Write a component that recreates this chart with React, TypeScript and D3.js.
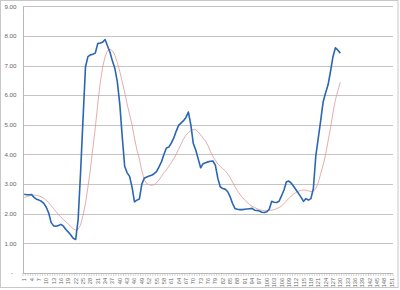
import React from "react";
import * as d3 from "d3";

const categories: number[] = d3.range(1, 152);
const labelEvery = 3;

const yTicks: number[] = [0, 1, 2, 3, 4, 5, 6, 7, 8, 9];
const yTickLabels: string[] = ["-", "1.00", "2.00", "3.00", "4.00", "5.00", "6.00", "7.00", "8.00", "9.00"];

const seriesActual: number[] = [
  2.66, 2.64, 2.64, 2.65, 2.55, 2.49, 2.46, 2.42, 2.35, 2.22,
  2.02, 1.70, 1.59, 1.58, 1.60, 1.64, 1.58, 1.47, 1.38, 1.28,
  1.17, 1.13, 1.80, 3.40, 5.20, 6.95, 7.30, 7.36, 7.38, 7.42,
  7.74, 7.76, 7.79, 7.88, 7.66, 7.45, 7.15, 6.90, 6.45, 5.70,
  4.60, 3.60, 3.38, 3.26, 2.90, 2.40, 2.46, 2.50, 3.00, 3.20,
  3.24, 3.27, 3.30, 3.35, 3.42, 3.58, 3.75, 4.00, 4.22, 4.25,
  4.38, 4.55, 4.78, 4.98, 5.06, 5.14, 5.25, 5.43, 5.00, 4.37,
  4.15, 3.85, 3.55, 3.69, 3.72, 3.75, 3.77, 3.78, 3.64, 3.20,
  2.91, 2.85, 2.83, 2.75, 2.58, 2.35, 2.18, 2.15, 2.14, 2.14,
  2.15, 2.16, 2.17, 2.18, 2.12, 2.11, 2.09, 2.05, 2.04, 2.07,
  2.15, 2.42, 2.39, 2.38, 2.42, 2.60, 2.80, 3.08, 3.10, 3.03,
  2.92, 2.80, 2.68, 2.55, 2.42, 2.51, 2.46, 2.51, 2.85, 3.95,
  4.55, 5.15, 5.78, 6.08, 6.35, 6.80, 7.30, 7.60, 7.52, 7.42,
];

const seriesAverage: number[] = [
  2.54, 2.57, 2.60, 2.62, 2.63, 2.62, 2.60, 2.57, 2.52, 2.45,
  2.37, 2.27, 2.17, 2.07, 1.97, 1.88, 1.80, 1.73, 1.65, 1.57,
  1.49, 1.45, 1.48, 1.62, 1.95, 2.35, 2.90, 3.50, 4.20, 4.90,
  5.70, 6.40, 6.95, 7.30, 7.50, 7.55, 7.50, 7.35, 7.10, 6.80,
  6.45, 6.10, 5.70, 5.35, 5.00, 4.55, 4.15, 3.85, 3.45, 3.15,
  3.02, 2.98, 2.96, 2.98, 3.04, 3.14, 3.26, 3.38, 3.48, 3.60,
  3.72, 3.86, 4.00, 4.17, 4.35, 4.52, 4.65, 4.74, 4.80, 4.84,
  4.83, 4.76, 4.66, 4.55, 4.45, 4.30, 4.10, 3.93, 3.80, 3.68,
  3.60, 3.52, 3.45, 3.35, 3.22, 3.07, 2.91, 2.78, 2.66, 2.55,
  2.46, 2.38, 2.31, 2.25, 2.21, 2.17, 2.14, 2.12, 2.10, 2.10,
  2.11, 2.12, 2.14, 2.17, 2.21, 2.26, 2.34, 2.43, 2.52, 2.60,
  2.67, 2.72, 2.76, 2.79, 2.80, 2.79, 2.77, 2.75, 2.76, 2.85,
  3.05, 3.35, 3.65, 4.00, 4.45, 4.90, 5.40, 5.85, 6.15, 6.44,
];

const W = 400;
const H = 290;
const plotLeft = 23;
const plotRight = 393;
const plotTop = 6.3;
const plotBottom = 273;

export default function App() {
  const x = d3.scaleBand<number>().domain(categories).range([plotLeft, plotRight]).padding(0);
  const y = d3.scaleLinear().domain([0, 9]).range([plotBottom, plotTop]);
  const bw = x.bandwidth();
  const cx = (i: number) => (x(categories[i]) as number) + bw / 2;

  const line = d3
    .line<number>()
    .x((_, i) => cx(i))
    .y((d) => y(d));

  const font = "'Liberation Sans', Arial, sans-serif";

  return (
    <svg
      width={W}
      height={H}
      style={{ position: "absolute", left: 0, top: 0, background: "#fff" }}
    >
      <rect x={0.5} y={0.5} width={397.5} height={287} fill="#fff" stroke="#c8c8c8" />
      {yTicks.map((t) =>
        t === 0 ? null : (
          <line
            key={"g" + t}
            x1={plotLeft}
            x2={plotRight}
            y1={Math.round(y(t)) + 0.5}
            y2={Math.round(y(t)) + 0.5}
            stroke="#c4c4c4"
            strokeWidth={1}
          />
        )
      )}
      {yTicks.map((t, k) => (
        <text
          key={"yl" + t}
          x={t === 0 ? 13 : 16.5}
          y={y(t) + 2.2}
          textAnchor="end"
          fontFamily={font}
          fontSize={6.2}
          fill="#666"
        >
          {yTickLabels[k]}
        </text>
      ))}
      <line x1={plotLeft + 0.5} x2={plotLeft + 0.5} y1={plotTop} y2={plotBottom} stroke="#b8b8b8" />
      <line x1={plotLeft} x2={plotRight} y1={plotBottom + 0.5} y2={plotBottom + 0.5} stroke="#b8b8b8" />
      {categories.map((c) => (
        <line
          key={"t" + c}
          x1={x(c) as number}
          x2={x(c) as number}
          y1={plotBottom}
          y2={plotBottom + 3}
          stroke="#b8b8b8"
          strokeWidth={0.6}
        />
      ))}
      <line x1={plotRight} x2={plotRight} y1={plotBottom} y2={plotBottom + 3} stroke="#b8b8b8" strokeWidth={0.6} />
      {categories.map((c, i) =>
        i % labelEvery === 0 ? (
          <text
            key={"xl" + c}
            transform={`translate(${cx(i) + 2},${plotBottom + 5}) rotate(-90)`}
            textAnchor="end"
            fontFamily={font}
            fontSize={5.6}
            fill="#666"
          >
            {String(c)}
          </text>
        ) : null
      )}
      <path d={line(seriesAverage) || ""} fill="none" stroke="#de9896" strokeWidth={0.8} />
      <path d={line(seriesActual) || ""} fill="none" stroke="#2a66b3" strokeWidth={1.6} strokeLinejoin="round" />
    </svg>
  );
}
